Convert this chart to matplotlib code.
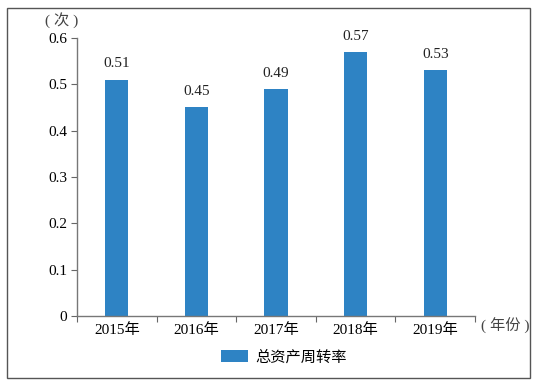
import matplotlib
matplotlib.use("Agg")
import matplotlib.pyplot as plt
from matplotlib.patches import Rectangle

plt.rcParams['font.family'] = ['Liberation Serif', 'Noto Sans CJK SC']

categories = ['2015年', '2016年', '2017年', '2018年', '2019年']
values = [0.51, 0.45, 0.49, 0.57, 0.53]
series_name = '总资产周转率'
yticks = [0, 0.1, 0.2, 0.3, 0.4, 0.5, 0.6]
ytick_labels = ['0', '0.1', '0.2', '0.3', '0.4', '0.5', '0.6']

W, H = 534, 382
fig = plt.figure(figsize=(W / 100, H / 100), dpi=100)
fig.patches.append(Rectangle((7 / W, 4 / H), 523 / W, 370 / H, transform=fig.transFigure,
                             fill=False, edgecolor='#555555', linewidth=1.0))

ax = fig.add_axes([77 / W, 1 - 316 / H, (475 - 77) / W, (316 - 38) / H])
x = list(range(len(categories)))
bars = ax.bar(x, values, width=0.29, color='#2E83C4', label=series_name, zorder=2)
for xi, v in zip(x, values):
    ax.text(xi, v + 0.02, f'{v:.2f}', ha='center', va='bottom', fontsize=11, color='#222222')

ax.set_xlim(-0.5, len(categories) - 0.5)
ax.set_ylim(0, 0.6)
ax.set_yticks(yticks)
ax.set_yticklabels(ytick_labels, fontsize=11)
ax.set_xticks([i - 0.5 for i in range(len(categories) + 1)])
ax.set_xticklabels([])
ax.set_xticks(x, minor=True)
ax.set_xticklabels(categories, minor=True, fontsize=11)
ax.tick_params(axis='x', which='minor', length=0, pad=5)
ax.tick_params(axis='x', which='major', length=4, color='#666666', direction='out')
ax.tick_params(axis='y', length=4, color='#666666', direction='out', pad=3)
for s in ['top', 'right']:
    ax.spines[s].set_visible(False)
for s in ['left', 'bottom']:
    ax.spines[s].set_color('#777777')
    ax.spines[s].set_linewidth(1.0)

fig.text(62 / W, 1 - 20 / H, '( 次 )', ha='center', va='center', fontsize=11, color='#444444')
fig.text(505 / W, 1 - 326 / H, '( 年份 )', ha='center', va='center', fontsize=11, color='#444444')

leg = ax.legend(loc='center', bbox_to_anchor=(0.52, (316 - 357) / (316 - 38)), frameon=False,
                fontsize=11, handlelength=1.8, handleheight=0.9, handletextpad=0.5)

fig.savefig('out.png', dpi=100)
